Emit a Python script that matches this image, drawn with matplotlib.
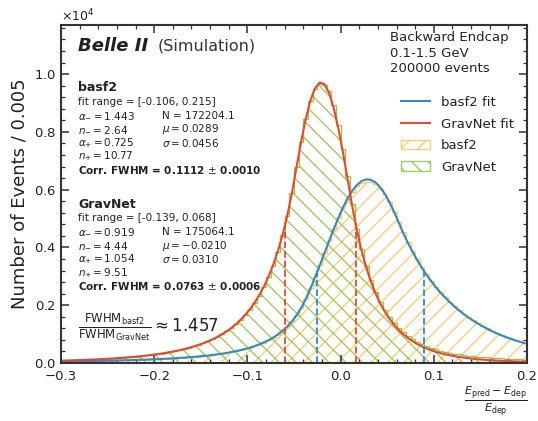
import matplotlib
matplotlib.use("Agg")
import matplotlib.pyplot as plt
import numpy as np
from matplotlib.patches import Patch
from matplotlib.lines import Line2D
from matplotlib.ticker import AutoMinorLocator, MultipleLocator

# binning: Events / 0.005 between -0.3 and 0.2
edges = np.linspace(-0.3, 0.2, 101)
centers = 0.5 * (edges[:-1] + edges[1:])

basf2_hist = [
    50, 54, 57, 59, 62, 64, 67, 70, 73, 77,
    80, 84, 88, 92, 97, 101, 106, 112, 118, 124,
    131, 139, 147, 155, 165, 175, 186, 198, 211, 225,
    240, 258, 277, 297, 320, 346, 375, 408, 444, 485,
    530, 582, 640, 708, 786, 878, 985, 1112, 1260, 1435,
    1650, 1905, 2215, 2580, 2970, 3380, 3800, 4220, 4630, 5010,
    5360, 5670, 5930, 6120, 6240, 6260, 6250, 6180, 6040, 5830,
    5560, 5240, 4890, 4530, 4190, 3880, 3590, 3320, 3075, 2850,
    2645, 2455, 2280, 2120, 1970, 1832, 1705, 1588, 1480, 1380,
    1288, 1200, 1120, 1046, 977, 913, 853, 798, 747, 700,
]

gravnet_hist = [
    80, 86, 90, 97, 103, 108, 117, 123, 131, 140,
    150, 158, 171, 182, 197, 210, 224, 243, 262, 282,
    305, 327, 356, 385, 418, 452, 492, 535, 583, 636,
    690, 755, 826, 905, 995, 1098, 1212, 1340, 1490, 1662,
    1850, 2070, 2330, 2620, 2970, 3370, 3850, 4420, 5100, 5880,
    6780, 7650, 8450, 9060, 9480, 9650, 9620, 9400, 8920, 8230,
    7400, 6480, 5520, 4650, 3950, 3360, 2870, 2460, 2110, 1820,
    1580, 1380, 1210, 1065, 940, 830, 735, 655, 585, 525,
    470, 428, 390, 356, 326, 300, 276, 255, 236, 219,
    204, 191, 179, 168, 158, 149, 141, 134, 127, 121,
]

basf2_fit = [
    53, 55, 58, 60, 62, 65, 68, 71, 74, 77,
    81, 85, 89, 93, 97, 102, 107, 113, 119, 125,
    132, 140, 148, 156, 166, 176, 187, 199, 212, 226,
    242, 259, 278, 299, 322, 348, 377, 409, 445, 486,
    531, 583, 643, 710, 788, 879, 985, 1109, 1255, 1428,
    1639, 1894, 2204, 2570, 2959, 3370, 3789, 4212, 4626, 5016,
    5379, 5697, 5961, 6164, 6298, 6357, 6340, 6248, 6083, 5852,
    5563, 5224, 4852, 4479, 4138, 3832, 3545, 3282, 3039, 2819,
    2613, 2424, 2253, 2093, 1943, 1808, 1683, 1566, 1459, 1359,
    1267, 1181, 1102, 1028, 960, 896, 837, 783, 733, 686,
]

gravnet_fit = [
    83, 88, 94, 99, 105, 111, 118, 126, 134, 142,
    151, 161, 173, 185, 198, 211, 227, 244, 261, 280,
    301, 325, 351, 380, 411, 445, 484, 527, 575, 626,
    682, 747, 818, 898, 990, 1092, 1205, 1336, 1488, 1660,
    1854, 2077, 2336, 2632, 2981, 3380, 3853, 4405, 5062, 5835,
    6744, 7640, 8436, 9074, 9508, 9709, 9658, 9361, 8840, 8135,
    7293, 6370, 5428, 4587, 3889, 3308, 2819, 2409, 2065, 1774,
    1528, 1318, 1140, 989, 859, 748, 652, 570, 499, 438,
    385, 339, 299, 264, 233, 207, 184, 163, 145, 129,
    116, 104, 93, 83, 75, 67, 61, 55, 49, 45,
]

# half-maximum positions
basf2_fwhm = [-0.0255, 0.0890]
gravnet_fwhm = [-0.0595, 0.0163]

C_BLUE = "#348ABD"
C_RED = "#E24A33"
C_ORANGE = "#FBC15E"
C_GREEN = "#8EBA42"
TXT = "#222222"

plt.rcParams["font.family"] = ["DejaVu Sans"]
plt.rcParams["hatch.linewidth"] = 1.0
plt.rcParams["axes.edgecolor"] = "#333333"
plt.rcParams["axes.linewidth"] = 1.5

fig = plt.figure(figsize=(5.38, 4.21), dpi=100)
ax = fig.add_axes([61 / 538, 1 - 363 / 421, 466 / 538, 338 / 421])

ax.stairs(basf2_hist, edges, fill=True, facecolor="none", edgecolor=C_ORANGE,
          hatch="//", linewidth=0, alpha=0.8)
ax.stairs(basf2_hist, edges, color=C_ORANGE, linewidth=1.0, alpha=0.9)
ax.stairs(gravnet_hist, edges, fill=True, facecolor="none", edgecolor=C_GREEN,
          hatch="\\\\", linewidth=0, alpha=0.8)
ax.stairs(gravnet_hist, edges, color=C_GREEN, linewidth=1.0, alpha=0.9)

ax.plot(centers, basf2_fit, color=C_BLUE, lw=1.5)
ax.plot(centers, gravnet_fit, color=C_RED, lw=1.5)

ax.vlines(basf2_fwhm, 0, max(basf2_fit) / 2, colors=C_BLUE, linestyles="--", lw=1.3)
ax.vlines(gravnet_fwhm, 0, max(gravnet_fit) / 2, colors=C_RED, linestyles="--", lw=1.3)

ax.set_xlim(-0.3, 0.2)
ax.set_ylim(0, 11700)
ax.xaxis.set_major_locator(MultipleLocator(0.1))
ax.yaxis.set_major_locator(MultipleLocator(2000))
ax.xaxis.set_minor_locator(AutoMinorLocator(5))
ax.yaxis.set_minor_locator(AutoMinorLocator(5))
ax.ticklabel_format(axis="y", style="sci", scilimits=(0, 0), useMathText=True)
ax.yaxis.get_offset_text().set_fontsize(9)
ax.yaxis.get_offset_text().set_color("#333333")
ax.tick_params(which="both", direction="in", top=True, right=True,
               labelsize=9.5, colors="#333333", labelcolor=TXT)
ax.tick_params(which="major", length=6, width=1.1)
ax.tick_params(which="minor", length=3, width=0.9)
ax.tick_params(axis="x", pad=5)

ax.set_ylabel("Number of Events / 0.005", fontsize=13, color=TXT)
ax.set_xlabel(r"$\frac{E_{\mathrm{pred}} - E_{\mathrm{dep}}}{E_{\mathrm{dep}}}$",
              fontsize=11.5, loc="right", color=TXT, labelpad=1)

tr = ax.transAxes
ax.text(0.0365, 0.938, "Belle II", fontsize=13, fontweight="bold", style="italic",
        va="center", transform=tr, color=TXT)
ax.text(0.208, 0.938, "(Simulation)", fontsize=11.5, va="center", transform=tr,
        color="#333333")

fs = 7.5
x1, x2 = 0.0365, 0.217
blocks = [
    (0.814, "basf2", "[-0.106, 0.215]",
     ["1.443", "2.64", "0.725", "10.77"], ["172204.1", "0.0289", "0.0456"],
     r"Corr. FWHM = 0.1112 $\pm$ 0.0010"),
    (0.470, "GravNet", "[-0.139, 0.068]",
     ["0.919", "4.44", "1.054", "9.51"], ["175064.1", "-0.0210", "0.0310"],
     r"Corr. FWHM = 0.0763 $\pm$ 0.0006"),
]
for y0, name, rng, left, right, corr in blocks:
    ax.text(x1, y0, name, fontsize=9, fontweight="bold", va="center", transform=tr, color=TXT)
    ax.text(x1, y0 - 0.042, "fit range = " + rng, fontsize=fs, va="center", transform=tr, color=TXT)
    syms = [r"\alpha_{-}", r"n_{-}", r"\alpha_{+}", r"n_{+}"]
    for k, (s, v) in enumerate(zip(syms, left)):
        ax.text(x1, y0 - 0.083 - 0.040 * k, "$%s = %s$" % (s, v), fontsize=fs,
                va="center", transform=tr, color=TXT)
    ax.text(x2, y0 - 0.083, "N = " + right[0], fontsize=fs, va="center", transform=tr, color=TXT)
    ax.text(x2, y0 - 0.123, r"$\mu = %s$" % right[1], fontsize=fs, va="center", transform=tr, color=TXT)
    ax.text(x2, y0 - 0.163, r"$\sigma = %s$" % right[2], fontsize=fs, va="center", transform=tr, color=TXT)
    ax.text(x1, y0 - 0.242, corr, fontsize=fs, fontweight="bold", va="center", transform=tr, color=TXT)

ax.text(0.0365, 0.107,
        r"$\frac{\mathrm{FWHM}_{\mathrm{basf2}}}{\mathrm{FWHM}_{\mathrm{GravNet}}} \approx 1.457$",
        fontsize=12, va="center", transform=tr, color=TXT)

ax.text(0.706, 0.982, "Backward Endcap\n0.1-1.5 GeV\n200000 events", fontsize=9.5,
        va="top", linespacing=1.25, transform=tr, color=TXT)

handles = [
    Line2D([], [], color=C_BLUE, lw=1.5),
    Line2D([], [], color=C_RED, lw=1.5),
    Patch(facecolor="none", edgecolor=C_ORANGE, hatch="//", alpha=0.8),
    Patch(facecolor="none", edgecolor=C_GREEN, hatch="\\\\", alpha=0.8),
]
ax.legend(handles, ["basf2 fit", "GravNet fit", "basf2", "GravNet"], loc="upper left",
          bbox_to_anchor=(0.73, 0.79), frameon=False, fontsize=9.5, borderpad=0,
          borderaxespad=0, handlelength=2.2, handletextpad=0.8, labelspacing=0.65,
          labelcolor=TXT)

fig.savefig("out.png", dpi=100)
